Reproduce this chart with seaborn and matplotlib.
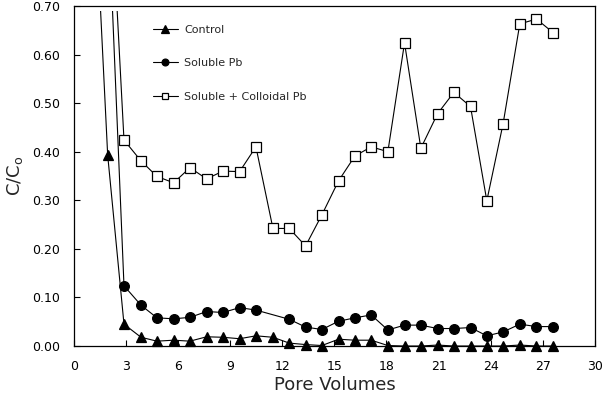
# library
import numpy as np
import pandas as pd
import seaborn as sns
import matplotlib.pyplot as plt
from matplotlib.patches import Rectangle
from matplotlib.ticker import FormatStrFormatter

# pore volumes (first point sits above the plotted range)
pore_volumes = [0.94, 1.94, 2.88, 3.86, 4.78, 5.74, 6.68, 7.64, 8.58, 9.54,
                10.48, 11.46, 12.40, 13.34, 14.28, 15.24, 16.18, 17.12, 18.08,
                19.04, 19.98, 20.94, 21.88, 22.84, 23.78, 24.72, 25.68, 26.64,
                27.60]

control = [1.12, 0.393, 0.045, 0.018, 0.010, 0.012, 0.010, 0.019, 0.018, 0.015,
           0.021, 0.018, 0.006, 0.003, 0.001, 0.014, 0.012, 0.012, 0.001,
           0.000, 0.000, 0.002, 0.000, 0.000, 0.000, 0.000, 0.002, 0.000,
           0.000]

soluble_pb = [np.nan, 0.93, 0.124, 0.084, 0.058, 0.056, 0.059, 0.071, 0.069,
              0.079, 0.074, np.nan, 0.055, 0.039, 0.034, 0.051, 0.058, 0.064,
              0.033, 0.043, 0.043, 0.036, 0.036, 0.038, 0.021, 0.029, 0.045,
              0.040, 0.040]

colloidal_pb = [np.nan, 1.06, 0.424, 0.381, 0.349, 0.336, 0.367, 0.344, 0.360,
                0.359, 0.410, 0.242, 0.242, 0.206, 0.270, 0.340, 0.391, 0.410,
                0.400, 0.624, 0.407, 0.478, 0.522, 0.493, 0.299, 0.458, 0.663,
                0.673, 0.645]

series_names = ["Control", "Soluble Pb", "Soluble + Colloidal Pb"]

df = pd.DataFrame({"pv": pore_volumes,
                   "Control": control,
                   "Soluble Pb": soluble_pb,
                   "Soluble + Colloidal Pb": colloidal_pb})

sns.set_style("ticks")
plt.rcParams["font.family"] = ["DejaVu Sans"]

fig = plt.figure(figsize=(6.07, 3.95), dpi=100)
ax = fig.add_axes([0.1219, 0.124, 0.858, 0.861])

styles = {
    "Control": dict(marker="^", markersize=7.5, markerfacecolor="black"),
    "Soluble Pb": dict(marker="o", markersize=7, markerfacecolor="black"),
    "Soluble + Colloidal Pb": dict(marker="s", markersize=6.5, markerfacecolor="white"),
}

for name in series_names:
    sub = df[["pv", name]].dropna()
    sns.lineplot(x=sub["pv"], y=sub[name], ax=ax, color="black",
                 linewidth=0.8, markeredgecolor="black", markeredgewidth=0.9,
                 label=name, estimator=None, sort=False, **styles[name])

# lines stop a little short of the top frame, markers not clipped at bottom
clip = Rectangle((-1, -0.05), 32, 0.74, transform=ax.transData)
for line in ax.lines:
    line.set_clip_path(clip)

ax.set_xlim(0, 30)
ax.set_ylim(0, 0.70)
ax.set_xticks(np.arange(0, 31, 3))
ax.set_yticks(np.arange(0, 0.71, 0.1))
ax.yaxis.set_major_formatter(FormatStrFormatter("%.2f"))
ax.tick_params(direction="in", length=4.5, width=0.8, labelsize=9,
               colors="black", pad=10)
for sp in ax.spines.values():
    sp.set_linewidth(0.9)
    sp.set_color("black")

ax.set_xlabel("Pore Volumes", fontsize=13, labelpad=2)
ax.set_ylabel(r"C/C$_\mathregular{o}$", fontsize=13)
ax.yaxis.set_label_coords(-0.094, 0.5)

ax.legend(loc="upper left", bbox_to_anchor=(0.152, 0.944), frameon=False,
          borderpad=0, borderaxespad=0, labelspacing=2.1, handlelength=2.2,
          handletextpad=0.6, fontsize=8, markerscale=0.7)

plt.savefig("out.png", dpi=100)
